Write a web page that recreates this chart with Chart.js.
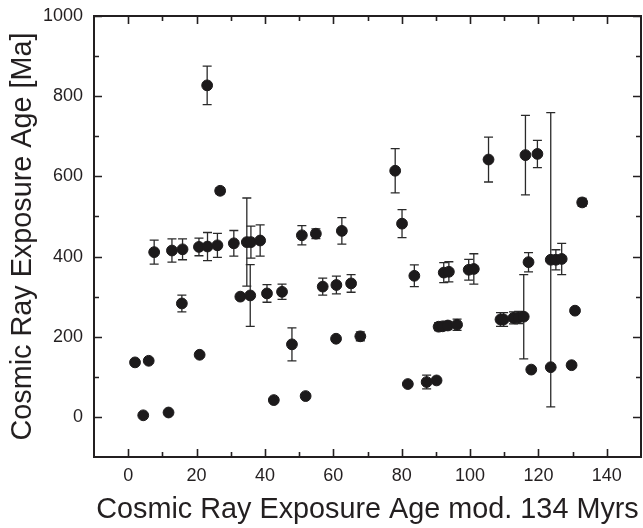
<!DOCTYPE html>
<html>
<head>
<meta charset="utf-8">
<script src="https://cdn.jsdelivr.net/npm/chart.js@4.4.1/dist/chart.umd.min.js"></script>
<style>
  html, body { margin: 0; padding: 0; background: #fff; }
  #wrap { width: 643px; height: 528px; position: relative; }
</style>
</head>
<body>
<div id="wrap"><canvas id="chart-cre"></canvas></div>
<script>
// exposure age modulo 134 Myr (x), exposure age in Ma (y), 1-sigma error in Ma
const ageMod = [
  7.6, 12.8, 15.9, 20.7, 23.2, 26.1, 30.9, 34.7, 35.9, 38.6,
  23.1, 26.9, 2.0, 6.0, 4.4, 11.8, 15.7, 20.9, 32.8, 35.7,
  40.6, 45.0, 47.9, 42.6, 51.9, 50.8, 54.9, 56.9, 60.9, 65.2,
  60.8, 67.9, 62.5, 78.1, 80.1, 81.8, 87.3, 90.2, 83.7, 92.3,
  93.8, 99.6, 101.1, 90.8, 92.0, 93.5, 96.2, 105.4, 116.2, 119.7,
  132.8, 108.9, 109.8, 112.7, 114.2, 115.7, 117.1, 117.9, 123.6, 123.6,
  125.1, 126.8, 129.7, 130.7
];
const exposureAge = [
  411, 415, 418, 424, 425, 428, 433, 436, 436, 440,
  827, 564, 136, 140, 4, 11, 283, 155, 300, 303,
  308, 312, 181, 42, 52, 453, 457, 325, 329, 333,
  195, 201, 464, 614, 482, 82, 87, 91, 352, 360,
  362, 367, 369, 225, 226, 228, 230, 642, 653, 656,
  535, 243, 243, 247, 248, 250, 386, 118, 124, 392,
  392, 394, 129, 265
];
const ageErr = [
  30, 29, 26, 22, 35, 30, 32, 110, 40, 39,
  48, 8, 0, 0, 0, 0, 21, 0, 0, 77,
  22, 19, 41, 0, 0, 24, 12, 21, 22, 22,
  0, 11, 33, 55, 35, 0, 17, 0, 27, 25,
  25, 26, 38, 10, 10, 10, 14, 56, 99, 34,
  10, 17, 17, 15, 15, 105, 24, 0, 0, 367,
  25, 39, 0, 0
];

const xMajor = [0, 20, 40, 60, 80, 100, 120, 140];
const xMinor = [10, 30, 50, 70, 90, 110, 130];
const yMajor = [0, 200, 400, 600, 800, 1000];
const yMinor = [100, 300, 500, 700, 900];

const ink = '#231f20';
const fontFamily = '"Liberation Sans", Arial, sans-serif';

// vertical error bars with caps, drawn under the markers
const errorBars = {
  id: 'errorBars',
  beforeDatasetsDraw(chart) {
    const { ctx, scales: { x, y } } = chart;
    ctx.save();
    ctx.strokeStyle = '#2a2a2a';
    ctx.lineWidth = 1.3;
    ageMod.forEach((v, i) => {
      if (!ageErr[i]) return;
      const px = x.getPixelForValue(v);
      const top = y.getPixelForValue(exposureAge[i] + ageErr[i]);
      const bot = y.getPixelForValue(exposureAge[i] - ageErr[i]);
      ctx.beginPath();
      ctx.moveTo(px, top); ctx.lineTo(px, bot);
      ctx.moveTo(px - 4.5, top); ctx.lineTo(px + 4.5, top);
      ctx.moveTo(px - 4.5, bot); ctx.lineTo(px + 4.5, bot);
      ctx.stroke();
    });
    ctx.restore();
  }
};

// closed frame with inward ticks on all four sides
const frameTicks = {
  id: 'frameTicks',
  afterDraw(chart) {
    const { ctx, chartArea: a, scales: { x, y } } = chart;
    ctx.save();
    ctx.strokeStyle = ink;
    ctx.lineWidth = 2;
    ctx.strokeRect(a.left, a.top, a.right - a.left, a.bottom - a.top);
    ctx.lineWidth = 1.6;
    const tickX = (vals, len) => vals.forEach(v => {
      const px = Math.round(x.getPixelForValue(v)) + 0.5;
      ctx.beginPath();
      ctx.moveTo(px, a.bottom); ctx.lineTo(px, a.bottom - len);
      ctx.moveTo(px, a.top); ctx.lineTo(px, a.top + len);
      ctx.stroke();
    });
    const tickY = (vals, len) => vals.forEach(v => {
      const py = Math.round(y.getPixelForValue(v)) + 0.5;
      ctx.beginPath();
      ctx.moveTo(a.left, py); ctx.lineTo(a.left + len, py);
      ctx.moveTo(a.right, py); ctx.lineTo(a.right - len, py);
      ctx.stroke();
    });
    tickX(xMajor, 8); tickX(xMinor, 5);
    tickY(yMajor, 8); tickY(yMinor, 5);
    ctx.restore();
  }
};

const ctx = document.getElementById('chart-cre');
new Chart(ctx, {
  type: 'scatter',
  data: {
    datasets: [{
      data: ageMod.map((v, i) => ({ x: v, y: exposureAge[i] })),
      backgroundColor: '#1c1a1b',
      borderColor: '#1c1a1b',
      borderWidth: 1,
      pointRadius: 5.4,
      pointHoverRadius: 5.4
    }]
  },
  options: {
    responsive: true,
    maintainAspectRatio: false,
    animation: false,
    layout: { autoPadding: false, padding: { top: 0, right: 2, left: 0, bottom: 0 } },
    plugins: {
      legend: { display: false },
      tooltip: { enabled: false }
    },
    scales: {
      x: {
        type: 'linear',
        min: -10,
        max: 150,
        afterBuildTicks: s => { s.ticks = xMajor.map(v => ({ value: v })); },
        afterFit: s => { s.height = 71; s.paddingLeft = 0; s.paddingRight = 2; },
        grid: { display: false, drawTicks: false },
        border: { display: false },
        ticks: {
          color: ink, padding: 8, maxRotation: 0,
          font: { family: fontFamily, size: 18 },
          callback: v => String(v)
        },
        title: {
          display: true,
          text: 'Cosmic Ray Exposure Age mod. 134 Myrs',
          color: ink,
          font: { family: fontFamily, size: 28.8 },
          padding: { top: 1, bottom: 1 }
        }
      },
      y: {
        type: 'linear',
        min: -100,
        max: 1000,
        afterBuildTicks: s => { s.ticks = yMajor.map(v => ({ value: v })); },
        afterFit: s => { s.width = 94; s.paddingTop = 16; s.paddingBottom = 0; },
        grid: { display: false, drawTicks: false },
        border: { display: false },
        ticks: {
          color: ink, padding: 11,
          font: { family: fontFamily, size: 18 },
          callback: v => String(v)
        },
        title: {
          display: true,
          text: 'Cosmic Ray Exposure Age [Ma]',
          color: ink,
          font: { family: fontFamily, size: 28.8 },
          padding: { top: 6, bottom: 4 }
        }
      }
    }
  },
  plugins: [errorBars, frameTicks]
});
</script>
</body>
</html>
